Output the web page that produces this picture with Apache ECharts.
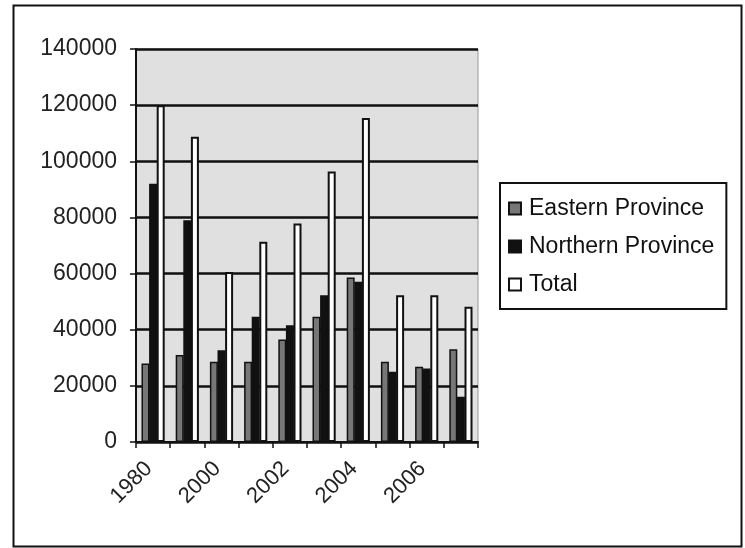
<!DOCTYPE html>
<html>
<head>
<meta charset="utf-8">
<script src="https://cdn.jsdelivr.net/npm/echarts@6/dist/echarts.min.js"></script>
<style>
html,body{margin:0;padding:0;background:#fff;}
#chart{width:745px;height:548px;}
</style>
</head>
<body>
<div id="chart"></div>
<script>
var categories = ["1980", "1999", "2000", "2001", "2002", "2003", "2004", "2005", "2006", "2007"];
var eastern  = [28000, 31000, 28600, 28600, 36500, 44600, 58600, 28600, 26800, 33000];
var northern = [92000, 79000, 32700, 44600, 41600, 52300, 57100, 25000, 26200, 16100];
var total    = [120000, 108700, 60600, 71300, 77800, 96400, 115400, 52300, 52300, 48200];
var yTicks = [0, 20000, 40000, 60000, 80000, 100000, 120000, 140000];

var FONT = '"Liberation Sans", Arial, sans-serif';
var chart = echarts.init(document.getElementById('chart'), null, {renderer: 'canvas'});
chart.setOption({
  animation: false,
  backgroundColor: '#ffffff',
  graphic: [{
    type: 'rect', left: 11, top: 3, z: 100, silent: true,
    shape: {width: 728, height: 541},
    style: {fill: 'none', stroke: '#111', lineWidth: 2}
  }],
  grid: {
    left: 136, right: 267, top: 49, bottom: 106,
    show: true, backgroundColor: '#e0e0e0', borderColor: '#999', borderWidth: 1
  },
  legend: {
    orient: 'vertical', left: 500, top: 183,
    padding: [14, 12, 13, 8],
    itemGap: 15, itemWidth: 12, itemHeight: 12,
    borderColor: '#111', borderWidth: 2, backgroundColor: '#fff',
    icon: 'rect',
    textStyle: {fontFamily: FONT, fontSize: 23, color: '#111', lineHeight: 22, padding: [0, 0, 0, 3]},
    data: ['Eastern Province', 'Northern Province', 'Total']
  },
  xAxis: {
    type: 'category',
    data: categories,
    boundaryGap: true,
    axisLine: {show: true, lineStyle: {color: '#111', width: 2}},
    axisTick: {show: true, interval: 0, length: 6, lineStyle: {color: '#111', width: 1.5}},
    axisLabel: {interval: 1, rotate: 45, fontFamily: FONT, fontSize: 22, color: '#222', margin: 19, padding: [0, 6, 0, 0]},
    splitLine: {show: false}
  },
  yAxis: {
    type: 'value',
    min: yTicks[0], max: yTicks[yTicks.length - 1], interval: 20000,
    axisLine: {show: true, lineStyle: {color: '#111', width: 2}},
    axisTick: {show: true, length: 6, lineStyle: {color: '#111', width: 1.5}},
    axisLabel: {fontFamily: FONT, fontSize: 23, color: '#222', margin: 19,
      formatter: function (v) { return String(v); }},
    splitLine: {show: true, lineStyle: {color: '#111', width: 2.5}}
  },
  series: [
    {
      name: 'Eastern Province', type: 'bar', data: eastern,
      barWidth: 8, barGap: '-5%',
      itemStyle: {color: '#777', borderColor: '#111', borderWidth: 1.5}
    },
    {
      name: 'Northern Province', type: 'bar', data: northern,
      barWidth: 8,
      itemStyle: {color: '#111', borderColor: '#111', borderWidth: 1.5}
    },
    {
      name: 'Total', type: 'bar', data: total,
      barWidth: 8,
      itemStyle: {color: '#fff', borderColor: '#111', borderWidth: 2}
    }
  ]
});
</script>
</body>
</html>
